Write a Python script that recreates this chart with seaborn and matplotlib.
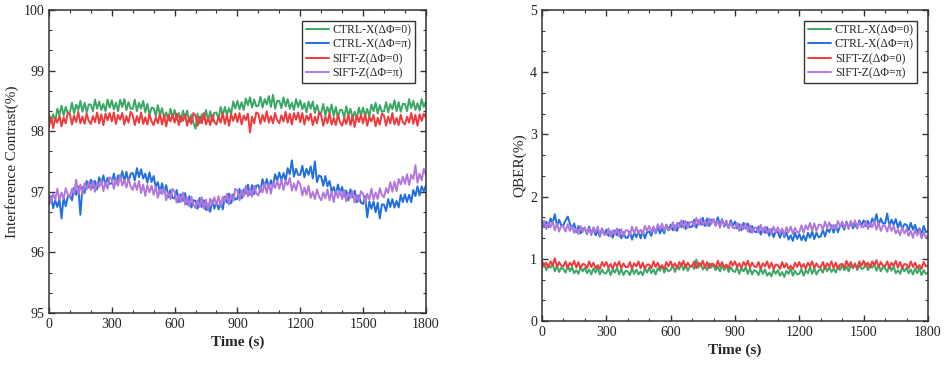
import numpy as np
import pandas as pd
import matplotlib
matplotlib.use("Agg")
import matplotlib.pyplot as plt
from matplotlib.ticker import MultipleLocator
import seaborn as sns

# time axis, one reading every 10 s
time_s = np.arange(0, 1801, 10)

labels = ["CTRL-X(ΔΦ=0)", "CTRL-X(ΔΦ=π)", "SIFT-Z(ΔΦ=0)", "SIFT-Z(ΔΦ=π)"]
colors = ["#3aa864", "#1f6fdc", "#ef3b3d", "#b277dd"]

# interference contrast (%)
contrast_ctrl_0 = [
    98.28, 98.15, 98.28, 98.16, 98.37, 98.27, 98.42, 98.26, 98.40, 98.30,
    98.31, 98.47, 98.29, 98.44, 98.35, 98.50, 98.32, 98.47, 98.31, 98.44,
    98.44, 98.33, 98.52, 98.37, 98.49, 98.35, 98.45, 98.33, 98.52, 98.39,
    98.51, 98.36, 98.47, 98.33, 98.52, 98.40, 98.53, 98.35, 98.48, 98.37,
    98.37, 98.52, 98.33, 98.47, 98.37, 98.50, 98.31, 98.45, 98.27, 98.39,
    98.38, 98.25, 98.43, 98.27, 98.38, 98.22, 98.31, 98.18, 98.37, 98.23,
    98.35, 98.19, 98.30, 98.15, 98.34, 98.21, 98.34, 98.15, 98.27, 98.14,
    98.04, 98.29, 98.13, 98.28, 98.20, 98.35, 98.17, 98.33, 98.16, 98.30,
    98.31, 98.20, 98.40, 98.26, 98.40, 98.27, 98.38, 98.28, 98.49, 98.37,
    98.50, 98.36, 98.48, 98.35, 98.54, 98.43, 98.56, 98.39, 98.52, 98.41,
    98.42, 98.57, 98.39, 98.53, 98.44, 98.58, 98.40, 98.60, 98.37, 98.50,
    98.50, 98.38, 98.56, 98.41, 98.53, 98.37, 98.47, 98.35, 98.53, 98.40,
    98.51, 98.36, 98.46, 98.31, 98.49, 98.37, 98.49, 98.30, 98.43, 98.31,
    98.30, 98.45, 98.26, 98.40, 98.30, 98.44, 98.25, 98.40, 98.22, 98.35,
    98.35, 98.22, 98.41, 98.26, 98.37, 98.22, 98.32, 98.20, 98.39, 98.26,
    98.39, 98.25, 98.37, 98.24, 98.44, 98.33, 98.47, 98.29, 98.43, 98.32,
    98.33, 98.48, 98.31, 98.45, 98.36, 98.51, 98.33, 98.48, 98.32, 98.45,
    98.45, 98.33, 98.53, 98.38, 98.50, 98.35, 98.46, 98.34, 98.53, 98.40,
    98.48]
contrast_ctrl_pi = [
    96.79, 96.93, 96.73, 96.86, 96.75, 96.88, 96.56, 96.91, 96.76, 96.92,
    96.95, 96.86, 97.07, 96.95, 97.09, 96.62, 97.08, 96.98, 97.18, 97.07,
    97.20, 97.06, 97.18, 97.04, 97.24, 97.13, 97.27, 97.10, 97.23, 97.13,
    97.14, 97.30, 97.13, 97.27, 97.19, 97.34, 97.17, 97.33, 97.16, 97.30,
    97.31, 97.19, 97.39, 97.24, 97.37, 97.22, 97.30, 97.15, 97.32, 97.16,
    97.26, 97.08, 97.16, 96.98, 97.14, 96.99, 97.11, 96.91, 97.03, 96.90,
    96.89, 97.03, 96.83, 96.96, 96.85, 96.98, 96.79, 96.93, 96.74, 96.86,
    96.85, 96.72, 96.90, 96.75, 96.86, 96.70, 96.80, 96.67, 96.86, 96.72,
    96.84, 96.71, 96.84, 96.71, 96.92, 96.82, 96.97, 96.81, 96.96, 96.87,
    96.89, 97.05, 96.89, 97.04, 96.97, 97.12, 96.95, 97.11, 96.96, 97.10,
    97.11, 97.00, 97.21, 97.07, 97.21, 97.07, 97.19, 97.09, 97.29, 97.18,
    97.32, 97.19, 97.31, 97.19, 97.39, 97.29, 97.52, 97.25, 97.38, 97.28,
    97.28, 97.43, 97.24, 97.38, 97.28, 97.42, 97.22, 97.50, 97.16, 97.27,
    97.25, 97.10, 97.26, 97.09, 97.18, 97.00, 97.08, 96.95, 97.12, 96.98,
    97.08, 96.92, 97.02, 96.86, 97.04, 96.91, 97.02, 96.83, 96.94, 96.82,
    96.80, 96.93, 96.58, 96.84, 96.72, 96.84, 96.66, 96.82, 96.56, 96.79,
    96.79, 96.68, 96.88, 96.75, 96.88, 96.74, 96.85, 96.74, 96.95, 96.83,
    96.96, 96.83, 96.95, 96.83, 97.03, 96.93, 97.09, 96.94, 97.09, 97.01,
    97.10]
contrast_sift_0 = [
    98.07, 98.23, 98.05, 98.21, 98.14, 98.26, 98.08, 98.23, 98.13, 98.31,
    98.28, 98.11, 98.26, 98.15, 98.32, 98.13, 98.24, 98.12, 98.29, 98.17,
    98.12, 98.25, 98.15, 98.31, 98.13, 98.28, 98.10, 98.29, 98.18, 98.30,
    98.16, 98.31, 98.12, 98.27, 98.19, 98.30, 98.11, 98.25, 98.14, 98.32,
    98.27, 98.10, 98.25, 98.14, 98.31, 98.12, 98.23, 98.11, 98.28, 98.16,
    98.10, 98.23, 98.13, 98.29, 98.11, 98.26, 98.08, 98.27, 98.16, 98.28,
    98.14, 98.29, 98.10, 98.25, 98.17, 98.28, 98.09, 98.23, 98.12, 98.30,
    98.26, 98.09, 98.24, 98.13, 98.30, 98.11, 98.22, 98.10, 98.27, 98.15,
    98.11, 98.24, 98.14, 98.30, 98.12, 98.27, 98.09, 98.28, 98.17, 98.29,
    98.15, 98.30, 98.11, 98.26, 98.18, 98.29, 97.98, 98.24, 98.13, 98.31,
    98.29, 98.12, 98.27, 98.16, 98.33, 98.14, 98.25, 98.13, 98.30, 98.18,
    98.13, 98.26, 98.16, 98.32, 98.14, 98.29, 98.11, 98.30, 98.19, 98.31,
    98.15, 98.30, 98.11, 98.26, 98.18, 98.29, 98.10, 98.24, 98.13, 98.31,
    98.26, 98.09, 98.24, 98.13, 98.30, 98.11, 98.22, 98.10, 98.27, 98.15,
    98.09, 98.22, 98.12, 98.28, 98.10, 98.25, 98.07, 98.26, 98.15, 98.27,
    98.13, 98.28, 98.09, 98.24, 98.16, 98.27, 98.08, 98.22, 98.11, 98.29,
    98.26, 98.09, 98.24, 98.13, 98.30, 98.11, 98.22, 98.10, 98.27, 98.15,
    98.11, 98.24, 98.14, 98.30, 98.12, 98.27, 98.09, 98.28, 98.17, 98.29,
    98.22]
contrast_sift_pi = [
    96.97, 96.81, 96.97, 96.87, 97.05, 96.87, 96.99, 96.88, 97.06, 96.95,
    96.91, 97.05, 96.96, 97.20, 96.96, 97.12, 96.95, 97.14, 97.04, 97.16,
    97.03, 97.18, 97.00, 97.15, 97.08, 97.19, 97.01, 97.16, 97.05, 97.24,
    97.21, 97.05, 97.21, 97.10, 97.28, 97.10, 97.20, 97.07, 97.22, 97.09,
    97.03, 97.15, 97.03, 97.18, 96.98, 97.12, 96.93, 97.11, 96.99, 97.10,
    96.95, 97.09, 96.90, 97.04, 96.96, 97.06, 96.86, 96.99, 96.88, 97.05,
    97.00, 96.82, 96.96, 96.83, 96.99, 96.79, 96.89, 96.76, 96.92, 96.79,
    96.73, 96.86, 96.75, 96.91, 96.72, 96.87, 96.69, 96.89, 96.78, 96.91,
    96.77, 96.93, 96.75, 96.92, 96.85, 96.97, 96.79, 96.95, 96.85, 97.05,
    97.02, 96.86, 97.02, 96.92, 97.10, 96.92, 97.04, 96.92, 97.10, 96.98,
    96.94, 97.08, 96.99, 97.15, 96.98, 97.14, 96.97, 97.16, 97.06, 97.18,
    97.05, 97.21, 97.03, 97.18, 97.11, 97.23, 97.02, 97.14, 97.02, 97.18,
    97.12, 96.94, 97.07, 96.95, 97.10, 96.90, 97.00, 96.88, 97.04, 96.92,
    96.86, 96.99, 96.89, 97.04, 96.86, 97.01, 96.83, 97.02, 96.90, 97.02,
    96.88, 97.03, 96.84, 96.98, 96.90, 97.01, 96.82, 96.95, 96.84, 97.01,
    96.97, 96.81, 96.97, 96.87, 97.05, 96.87, 96.99, 96.88, 97.06, 96.95,
    96.91, 97.06, 96.98, 97.16, 97.00, 97.17, 97.01, 97.21, 97.12, 97.25,
    97.13, 97.29, 97.11, 97.28, 97.21, 97.44, 97.15, 97.30, 97.19, 97.38,
    97.28]

# QBER (%)
qber_ctrl_0 = [
    0.85, 0.93, 0.82, 0.91, 0.86, 0.91, 0.80, 0.89, 0.79, 0.86,
    0.84, 0.78, 0.89, 0.80, 0.87, 0.77, 0.82, 0.76, 0.87, 0.80,
    0.86, 0.77, 0.83, 0.75, 0.85, 0.78, 0.86, 0.75, 0.83, 0.77,
    0.77, 0.85, 0.74, 0.83, 0.78, 0.86, 0.75, 0.84, 0.74, 0.81,
    0.80, 0.74, 0.85, 0.76, 0.83, 0.75, 0.80, 0.74, 0.85, 0.78,
    0.86, 0.77, 0.83, 0.75, 0.85, 0.81, 0.89, 0.78, 0.86, 0.80,
    0.82, 0.90, 0.79, 0.88, 0.83, 0.93, 0.82, 0.91, 0.81, 0.88,
    0.90, 0.84, 0.99, 0.86, 0.93, 0.83, 0.88, 0.82, 0.93, 0.86,
    0.91, 0.82, 0.88, 0.80, 0.90, 0.82, 0.90, 0.79, 0.87, 0.81,
    0.79, 0.87, 0.76, 0.85, 0.80, 0.87, 0.76, 0.85, 0.75, 0.82,
    0.80, 0.74, 0.85, 0.76, 0.83, 0.73, 0.78, 0.72, 0.83, 0.76,
    0.82, 0.73, 0.79, 0.71, 0.81, 0.76, 0.84, 0.73, 0.81, 0.75,
    0.76, 0.84, 0.73, 0.82, 0.77, 0.87, 0.76, 0.85, 0.75, 0.82,
    0.84, 0.78, 0.89, 0.80, 0.87, 0.79, 0.84, 0.78, 0.89, 0.82,
    0.91, 0.82, 0.88, 0.80, 0.90, 0.85, 0.93, 0.82, 0.90, 0.84,
    0.85, 0.93, 0.82, 0.91, 0.86, 0.92, 0.81, 0.90, 0.80, 0.87,
    0.85, 0.79, 0.90, 0.81, 0.88, 0.77, 0.82, 0.76, 0.87, 0.80,
    0.86, 0.77, 0.83, 0.75, 0.85, 0.77, 0.85, 0.74, 0.82, 0.76,
    0.78]
qber_ctrl_pi = [
    1.60, 1.51, 1.60, 1.51, 1.65, 1.58, 1.72, 1.53, 1.63, 1.54,
    1.54, 1.62, 1.68, 1.57, 1.49, 1.57, 1.43, 1.53, 1.41, 1.49,
    1.48, 1.40, 1.52, 1.41, 1.49, 1.38, 1.45, 1.36, 1.49, 1.39,
    1.47, 1.37, 1.44, 1.34, 1.46, 1.38, 1.47, 1.33, 1.43, 1.34,
    1.34, 1.44, 1.31, 1.42, 1.35, 1.45, 1.33, 1.45, 1.33, 1.43,
    1.44, 1.37, 1.51, 1.41, 1.51, 1.41, 1.49, 1.41, 1.55, 1.46,
    1.55, 1.46, 1.54, 1.45, 1.58, 1.51, 1.61, 1.48, 1.59, 1.51,
    1.52, 1.63, 1.50, 1.62, 1.55, 1.66, 1.53, 1.65, 1.53, 1.63,
    1.63, 1.54, 1.67, 1.55, 1.64, 1.52, 1.58, 1.50, 1.62, 1.53,
    1.60, 1.49, 1.56, 1.46, 1.58, 1.49, 1.57, 1.43, 1.53, 1.44,
    1.43, 1.52, 1.39, 1.49, 1.42, 1.51, 1.37, 1.48, 1.35, 1.44,
    1.43, 1.34, 1.46, 1.35, 1.43, 1.31, 1.38, 1.29, 1.42, 1.32,
    1.40, 1.30, 1.38, 1.29, 1.42, 1.34, 1.44, 1.32, 1.42, 1.35,
    1.36, 1.47, 1.36, 1.48, 1.43, 1.54, 1.42, 1.54, 1.43, 1.53,
    1.54, 1.47, 1.60, 1.50, 1.59, 1.49, 1.56, 1.49, 1.62, 1.54,
    1.62, 1.53, 1.61, 1.52, 1.65, 1.58, 1.72, 1.54, 1.65, 1.57,
    1.57, 1.73, 1.52, 1.63, 1.55, 1.64, 1.50, 1.60, 1.48, 1.56,
    1.55, 1.46, 1.58, 1.47, 1.55, 1.43, 1.49, 1.40, 1.53, 1.43,
    1.45]
qber_sift_0 = [
    0.97, 0.88, 0.94, 0.86, 0.96, 0.90, 1.01, 0.87, 0.95, 0.89,
    0.88, 0.96, 0.85, 0.94, 0.89, 0.97, 0.86, 0.95, 0.85, 0.92,
    0.91, 0.85, 0.96, 0.87, 0.94, 0.85, 0.90, 0.84, 0.95, 0.88,
    0.95, 0.86, 0.92, 0.84, 0.94, 0.88, 0.96, 0.85, 0.93, 0.87,
    0.87, 0.95, 0.84, 0.93, 0.88, 0.96, 0.85, 0.94, 0.84, 0.91,
    0.91, 0.85, 0.96, 0.87, 0.94, 0.85, 0.90, 0.84, 0.95, 0.88,
    0.96, 0.87, 0.93, 0.85, 0.95, 0.89, 0.97, 0.86, 0.94, 0.88,
    0.88, 0.96, 0.85, 0.94, 0.89, 0.97, 0.86, 0.95, 0.85, 0.92,
    0.92, 0.86, 0.97, 0.88, 0.95, 0.86, 0.91, 0.85, 0.96, 0.89,
    0.96, 0.87, 0.93, 0.85, 0.95, 0.89, 0.97, 0.86, 0.94, 0.88,
    0.87, 0.95, 0.84, 0.93, 0.88, 0.96, 0.85, 0.94, 0.84, 0.91,
    0.90, 0.84, 0.95, 0.86, 0.93, 0.84, 0.89, 0.83, 0.94, 0.87,
    0.95, 0.86, 0.92, 0.84, 0.94, 0.88, 0.96, 0.85, 0.93, 0.87,
    0.87, 0.95, 0.84, 0.93, 0.88, 0.96, 0.85, 0.94, 0.84, 0.91,
    0.92, 0.86, 0.97, 0.88, 0.95, 0.86, 0.91, 0.85, 0.96, 0.89,
    0.97, 0.88, 0.94, 0.86, 0.96, 0.90, 0.98, 0.87, 0.95, 0.89,
    0.88, 0.96, 0.85, 0.94, 0.89, 0.97, 0.86, 0.95, 0.85, 0.92,
    0.91, 0.85, 0.96, 0.87, 0.94, 0.85, 0.90, 0.84, 0.95, 0.88,
    0.90]
qber_sift_pi = [
    1.52, 1.61, 1.48, 1.58, 1.51, 1.60, 1.46, 1.57, 1.44, 1.53,
    1.52, 1.44, 1.56, 1.45, 1.53, 1.42, 1.49, 1.40, 1.53, 1.43,
    1.51, 1.41, 1.49, 1.38, 1.51, 1.43, 1.52, 1.38, 1.48, 1.39,
    1.39, 1.49, 1.36, 1.46, 1.39, 1.49, 1.36, 1.48, 1.36, 1.46,
    1.46, 1.38, 1.52, 1.41, 1.51, 1.40, 1.47, 1.40, 1.53, 1.45,
    1.53, 1.43, 1.52, 1.42, 1.56, 1.48, 1.57, 1.45, 1.55, 1.48,
    1.48, 1.59, 1.46, 1.58, 1.51, 1.62, 1.50, 1.61, 1.50, 1.59,
    1.60, 1.52, 1.66, 1.55, 1.65, 1.54, 1.61, 1.53, 1.65, 1.56,
    1.64, 1.53, 1.61, 1.50, 1.63, 1.54, 1.62, 1.49, 1.58, 1.50,
    1.49, 1.58, 1.45, 1.55, 1.48, 1.57, 1.44, 1.54, 1.42, 1.50,
    1.50, 1.42, 1.55, 1.43, 1.52, 1.41, 1.48, 1.40, 1.52, 1.43,
    1.51, 1.41, 1.49, 1.38, 1.51, 1.43, 1.52, 1.40, 1.50, 1.43,
    1.43, 1.54, 1.42, 1.54, 1.47, 1.58, 1.45, 1.57, 1.45, 1.55,
    1.55, 1.47, 1.60, 1.50, 1.59, 1.48, 1.55, 1.47, 1.61, 1.52,
    1.60, 1.50, 1.58, 1.48, 1.61, 1.53, 1.62, 1.49, 1.59, 1.51,
    1.51, 1.61, 1.48, 1.58, 1.51, 1.61, 1.47, 1.58, 1.45, 1.54,
    1.53, 1.44, 1.56, 1.45, 1.53, 1.41, 1.47, 1.38, 1.51, 1.41,
    1.48, 1.37, 1.45, 1.34, 1.47, 1.38, 1.47, 1.33, 1.43, 1.34,
    1.38]


def long_frame(series):
    parts = []
    for label, values in zip(labels, series):
        parts.append(pd.DataFrame({"time": time_s, "value": values, "series": label}))
    return pd.concat(parts, ignore_index=True)


def style_axes(ax, ylim, ylabel):
    ax.set_xlim(0, 1800)
    ax.set_ylim(*ylim)
    ax.xaxis.set_major_locator(MultipleLocator(300))
    ax.xaxis.set_minor_locator(MultipleLocator(100))
    ax.yaxis.set_major_locator(MultipleLocator(1))
    ax.yaxis.set_minor_locator(MultipleLocator(1 / 3))
    ax.tick_params(which="both", direction="in", top=True, right=True,
                   colors="#333333", labelcolor="#222222", labelsize=10)
    ax.tick_params(which="major", length=4, width=1)
    ax.tick_params(which="minor", length=2.5, width=0.8)
    for sp in ax.spines.values():
        sp.set_visible(True)
        sp.set_color("#333333")
        sp.set_linewidth(1.1)
    ax.set_xlabel("Time (s)", fontsize=11, fontweight="bold", labelpad=3)
    ax.set_ylabel(ylabel, fontsize=11, labelpad=3)
    leg = ax.legend(loc="upper right", fontsize=8.5, frameon=True, fancybox=False,
                    edgecolor="#333333", framealpha=1, borderpad=0.3,
                    labelspacing=0.2, handlelength=2.0, handletextpad=0.3,
                    borderaxespad=0.9)
    leg.get_frame().set_linewidth(1.0)
    for line in leg.get_lines():
        line.set_linewidth(1.4)


sns.set_theme(style="ticks")
plt.rcParams["font.family"] = ["Liberation Serif", "DejaVu Serif"]

fig = plt.figure(figsize=(9.47, 3.70), dpi=100)
ax1 = fig.add_axes([0.0517, 0.154, 0.398, 0.819])
ax2 = fig.add_axes([0.5723, 0.132, 0.4076, 0.841])

contrast_df = long_frame([contrast_ctrl_0, contrast_ctrl_pi, contrast_sift_0, contrast_sift_pi])
qber_df = long_frame([qber_ctrl_0, qber_ctrl_pi, qber_sift_0, qber_sift_pi])

sns.lineplot(data=contrast_df, x="time", y="value", hue="series", palette=colors,
             estimator=None, linewidth=1.4, ax=ax1)
sns.lineplot(data=qber_df, x="time", y="value", hue="series", palette=colors,
             estimator=None, linewidth=1.4, ax=ax2)

style_axes(ax1, (95, 100), "Interference Contrast(%)")
style_axes(ax2, (0, 5), "QBER(%)")

fig.savefig("out.png", dpi=100)
